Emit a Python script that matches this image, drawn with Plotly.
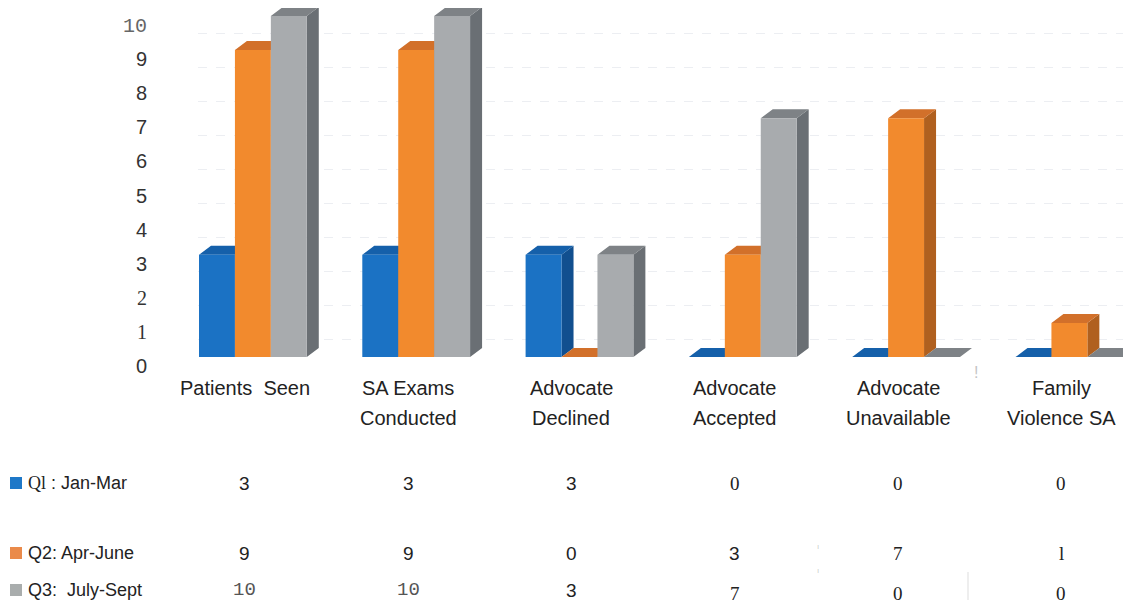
import plotly.graph_objects as go

# ---------------- data ----------------
categories = ["Patients  Seen", "SA Exams\nConducted", "Advocate\nDeclined",
              "Advocate\nAccepted", "Advocate\nUnavailable", "Family\nViolence SA"]
series_names = ["Q1 : Jan-Mar", "Q2: Apr-June", "Q3:  July-Sept"]
q1_values = [3, 3, 3, 0, 0, 0]
q2_values = [9, 9, 0, 3, 7, 1]
q3_values = [10, 10, 3, 7, 0, 0]
y_ticks = [0, 1, 2, 3, 4, 5, 6, 7, 8, 9, 10]
values = [q1_values, q2_values, q3_values]

# ---------------- style ----------------
FRONT = ["#1b72c4", "#f28a2d", "#a8abae"]
TOP = ["#1560aa", "#d2702a", "#7e8286"]
SIDE = ["#114f8f", "#b0601f", "#6a6f74"]
LEGEND = ["#1e78c8", "#ea8a4a", "#a9adad"]
SANS = "Liberation Sans"
SERIF = "Liberation Serif"
MONO = "Liberation Mono"

OFF = 8                      # browser body margin
W, H = 1131 - OFF, 605 - OFF
PL, PB = 198 - OFF, 357 - OFF  # plot left px, plot bottom px (y=0)
PXX = 163.3                  # px per category unit
PXY = 34.1                   # px per value unit
BW = 0.22                    # bar width in category units
DX = 12 / PXX                # 3d depth, x
DY = 9 / PXY                 # 3d depth, y
x_left = -1.5 * BW - 1 / PXX
x_right = x_left + (W - PL) / PXX
y_top = PB / PXY

n = len(categories)
idx = list(range(n))

fig = go.Figure()

# 3D faces (drawn under the bars through overlay ordering)
for s in range(3):
    off = (s - 1) * BW
    sx, sy, tx, ty = [], [], [], []
    for i in idx:
        v = values[s][i]
        x0 = i + off - BW / 2
        x1 = i + off + BW / 2
        sx += [x1, x1 + DX, x1 + DX, x1, x1, None]
        sy += [0, DY, v + DY, v, 0, None]
        tx += [x0, x1, x1 + DX, x0 + DX, x0, None]
        ty += [v, v, v + DY, v + DY, v, None]
    fig.add_trace(go.Scatter(x=sx, y=sy, mode="lines", fill="toself",
                             fillcolor=SIDE[s], line=dict(width=0),
                             hoverinfo="skip", showlegend=False,
                             xaxis="x", yaxis="y"))
    fig.add_trace(go.Scatter(x=tx, y=ty, mode="lines", fill="toself",
                             fillcolor=TOP[s], line=dict(width=0),
                             hoverinfo="skip", showlegend=False,
                             xaxis="x", yaxis="y"))

# front faces: real bars on overlay axes (drawn on top)
for s in range(3):
    fig.add_trace(go.Bar(x=idx, y=values[s], name=series_names[s],
                         marker=dict(color=FRONT[s], line=dict(width=0)),
                         showlegend=False, xaxis="x2", yaxis="y2"))


def styled(text, family, color="#222222"):
    return f"<span style='font-family:\"{family}\";color:{color}'>{text}</span>"


tick_fonts = {1: SERIF, 2: SERIF, 10: MONO}
ticktext = []
for t in y_ticks:
    f = tick_fonts.get(t, SANS)
    ticktext.append(styled(t, f, "#666666" if f == MONO else "#333333"))

fig.update_layout(
    width=W, height=H,
    margin=dict(l=PL, r=0, t=0, b=H - PB, pad=0),
    paper_bgcolor="white", plot_bgcolor="white",
    barmode="group", bargap=1 - 3 * BW, bargroupgap=0,
    xaxis=dict(range=[x_left, x_right], showgrid=False, zeroline=False,
               showticklabels=False, showline=False, ticks=""),
    yaxis=dict(range=[0, y_top], showgrid=False, zeroline=False, showline=False,
               tickmode="array", tickvals=y_ticks, ticktext=ticktext,
               ticks="", ticklabelshift=9, ticklabelstandoff=50,
               tickfont=dict(family=SANS, size=20, color="#333333"),
               minor=dict(tickmode="array",
                          tickvals=[t + 0.5 for t in y_ticks[:-1]],
                          showgrid=True, gridcolor="#eceef2", gridwidth=1,
                          griddash="dash", ticks="")),
    xaxis2=dict(range=[x_left, x_right], overlaying="x", visible=False),
    yaxis2=dict(range=[0, y_top], overlaying="y", visible=False),
)


def py(p):
    return (PB - (p - OFF)) / PB


def px(p):
    return ((p - OFF) - PL) / (W - PL)


annotations = []
# category labels
for i, c in enumerate(categories):
    for k, line in enumerate(c.split("\n")):
        annotations.append(dict(x=i, xref="x", xshift=-8, y=py(388 + 30 * k), yref="paper",
                                text=line, showarrow=False, xanchor="center", yanchor="middle",
                                font=dict(family=SANS, size=20, color="#222222")))

# data table
row_y = [483, 553, 590]
cell_fonts = {(0, 3): SERIF, (0, 4): SERIF, (0, 5): SERIF,
              (1, 4): SERIF, (1, 5): SERIF,
              (2, 0): MONO, (2, 1): MONO, (2, 3): SERIF, (2, 4): SERIF, (2, 5): SERIF}
cell_dy = {(2, 3): 3, (2, 4): 3, (2, 5): 3}
for s in range(3):
    # legend square
    sy = row_y[s]
    fig.add_shape(type="rect", xref="paper", yref="paper",
                  x0=px(10), x1=px(22), y0=py(sy + 6), y1=py(sy - 6),
                  fillcolor=LEGEND[s], line=dict(width=0))
    label = series_names[s]
    if s == 0:
        label = styled("Ql", SERIF) + " : Jan-Mar"
    annotations.append(dict(x=px(26), xref="paper", y=py(sy), yref="paper", text=label,
                            showarrow=False, xanchor="left", yanchor="middle",
                            font=dict(family=SANS, size=18, color="#222222")))
    for i in idx:
        v = values[s][i]
        f = cell_fonts.get((s, i), SANS)
        txt = "l" if (f == SERIF and v == 1) else str(v)
        col = "#555555" if f == MONO else "#222222"
        annotations.append(dict(x=i, xref="x", xshift=-8, y=py(sy + cell_dy.get((s, i), 0)),
                                yref="paper", text=styled(txt, f, col), showarrow=False,
                                xanchor="center", yanchor="middle",
                                font=dict(family=f, size=19, color=col)))

# scan artifacts
annotations.append(dict(x=px(980), xref="paper", y=py(383), yref="paper", text="!",
                        showarrow=False, font=dict(family=SANS, size=16, color="#c4c4c4")))
for yy in (553, 577):
    annotations.append(dict(x=px(818), xref="paper", y=py(yy), yref="paper", text="ı",
                            showarrow=False, font=dict(family=SANS, size=8, color="#cccccc")))
fig.add_shape(type="line", xref="paper", yref="paper", x0=px(968), x1=px(968),
              y0=py(600), y1=py(572), line=dict(color="#dddddd", width=1))

fig.update_layout(annotations=annotations)
fig.write_html("out.html")
